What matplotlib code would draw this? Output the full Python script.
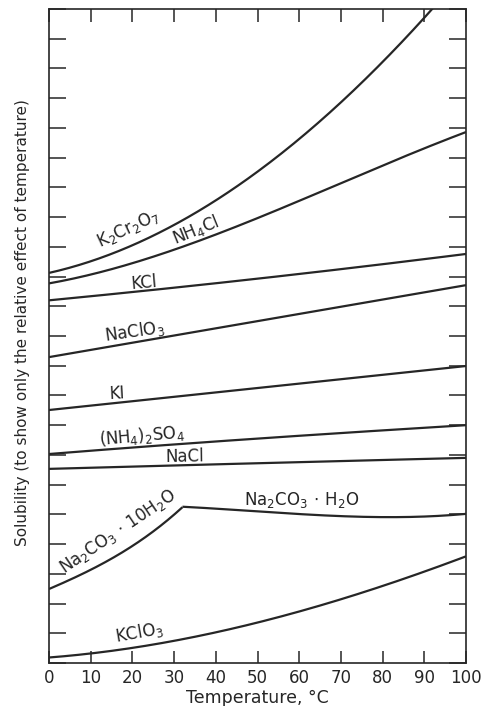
#!/usr/bin/env python3
"""Relative solubility of salts vs temperature."""

import matplotlib
matplotlib.use("Agg")
import matplotlib.pyplot as plt
import numpy as np

INK = "#262626"

# curve data (temperature in degC, relative solubility units)
k2cr2o7_t = [0, 10, 20, 30, 40, 50, 60, 70, 80, 90, 95]
k2cr2o7_s = [13.12, 13.55, 14.0, 14.7, 15.6, 16.6, 17.6, 18.8, 20.25, 21.7, 22.5]

nh4cl_t = [0, 10, 20, 30, 40, 50, 60, 70, 80, 90, 100]
nh4cl_s = [12.75, 13.1, 13.45, 13.9, 14.4, 14.95, 15.55, 16.15, 16.75, 17.3, 17.86]

kcl_t = [0, 25, 50, 75, 100]
kcl_s = [12.2, 12.55, 12.93, 13.33, 13.76]

naclo3_t = [0, 50, 100]
naclo3_s = [10.29, 11.5, 12.71]

ki_t = [0, 50, 100]
ki_s = [8.51, 9.25, 9.99]

nh42so4_t = [0, 25, 50, 75, 100]
nh42so4_s = [7.03, 7.3, 7.55, 7.78, 8.0]

nacl_t = [0, 50, 100]
nacl_s = [6.53, 6.72, 6.9]

na2co3_10_t = [0, 10, 20, 25, 30, 32]
na2co3_10_s = [2.49, 3.13, 3.95, 4.42, 4.98, 5.25]

na2co3_1_t = [32, 40, 50, 60, 70, 80, 90, 100]
na2co3_1_s = [5.25, 5.2, 5.11, 5.0, 4.93, 4.91, 4.94, 5.01]

kclo3_t = [0, 10, 20, 30, 40, 50, 60, 70, 80, 90, 100]
kclo3_s = [0.17, 0.34, 0.52, 0.74, 1.02, 1.36, 1.73, 2.13, 2.6, 3.1, 3.57]

CURVES = [
  (k2cr2o7_t, k2cr2o7_s),
  (nh4cl_t, nh4cl_s),
  (kcl_t, kcl_s),
  (naclo3_t, naclo3_s),
  (ki_t, ki_s),
  (nh42so4_t, nh42so4_s),
  (nacl_t, nacl_s),
  (na2co3_10_t, na2co3_10_s),
  (na2co3_1_t, na2co3_1_s),
  (kclo3_t, kclo3_s),
]

# labels: text, x, y, rotation
LABELS = [
  (r"K$_2$Cr$_2$O$_7$", 18.9, 14.62, 25),
  (r"NH$_4$Cl", 35.2, 14.55, 22),
  ("KCl", 22.8, 12.8, 5),
  (r"NaClO$_3$", 20.4, 11.15, 8),
  ("KI", 16.3, 9.05, 3),
  (r"(NH$_4$)$_2$SO$_4$", 22.3, 7.65, 5),
  ("NaCl", 32.6, 6.95, 1),
  (r"Na$_2$CO$_3$$\,\cdot\,$10H$_2$O", 16.6, 4.42, 34),
  (r"Na$_2$CO$_3$$\,\cdot\,$H$_2$O", 60.7, 5.47, 0),
  (r"KClO$_3$", 21.6, 1.02, 10),
]


def smooth(t, s):
  t = np.asarray(t, dtype=float)
  s = np.asarray(s, dtype=float)
  if len(t) < 3:
    return t, s
  tt = np.linspace(t[0], t[-1], 200)
  deg = min(3, len(t) - 1)
  coef = np.polyfit(t, s, deg)
  return tt, np.polyval(coef, tt)


def main():
  fig = plt.figure(figsize=(4.82, 7.06), dpi=100)
  ax = fig.add_axes([49 / 482, 43 / 706, 417 / 482, 654 / 706])

  for t, s in CURVES:
    tt, ss = smooth(t, s)
    ax.plot(tt, ss, color=INK, linewidth=1.6, solid_capstyle="butt")

  for text, x, y, rot in LABELS:
    ax.text(x, y, text, rotation=rot, rotation_mode="anchor", ha="center",
            va="center", fontsize=12, color=INK)

  ax.set_xlim(0, 100)
  ax.set_ylim(0, 22)
  ax.set_xticks(np.arange(0, 101, 10))
  ax.set_yticks(np.arange(0, 23, 1))
  ax.set_yticklabels([])
  ax.tick_params(axis="x", direction="in", length=9, width=1.1, top=True,
                 labelsize=12, colors=INK, pad=4)
  ax.tick_params(axis="y", direction="in", length=12, width=1.1, right=True,
                 colors=INK)
  for spine in ax.spines.values():
    spine.set_linewidth(1.2)
    spine.set_color(INK)

  ax.set_xlabel("Temperature, °C", fontsize=12.5, color=INK, labelpad=2)
  ax.set_ylabel("Solubility (to show only the relative effect of temperature)",
                fontsize=11, color=INK)
  ax.yaxis.set_label_coords(-0.045, 0.52)

  fig.savefig("out.png", dpi=100, facecolor="white")
  plt.close(fig)


if __name__ == "__main__":
  main()
